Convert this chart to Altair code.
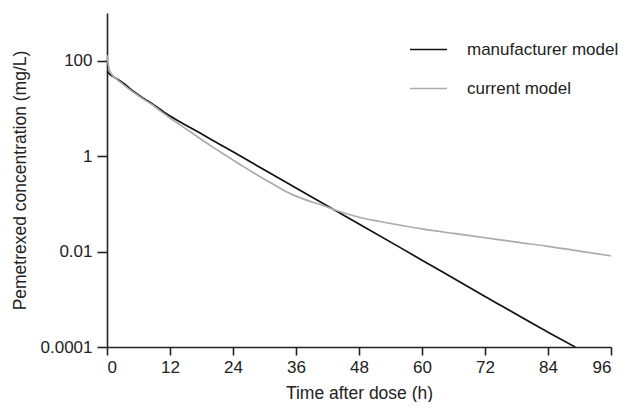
import altair as alt
import pandas as pd

# Manufacturer model (black)
manu_time = [0, 0.5, 1, 2, 3, 5, 7, 9, 12, 16, 20, 24, 36, 48, 60, 72, 84, 89.2]
manu_conc = [61.7, 52.5, 47.9, 40.7, 34.7, 22.9, 16.2, 11.7, 6.92, 3.89, 2.19, 1.23,
             0.214, 0.038, 0.00661, 0.00115, 0.000204, 0.0001]

# Current model (grey)
curr_time = [0, 0.25, 0.5, 1, 2, 3, 5, 7, 9, 10, 12, 14, 16, 18, 20, 23, 26, 29, 32,
             35, 38, 41, 44, 48, 52, 56, 60, 66, 72, 78, 84, 90, 96]
curr_conc = [131.8, 83.2, 63.1, 50.1, 39.8, 32.4, 21.9, 15.5, 11.2, 9.12, 6.31, 4.47,
             3.16, 2.24, 1.58, 0.977, 0.603, 0.38, 0.245, 0.162, 0.12, 0.0933, 0.0708,
             0.0525, 0.0427, 0.0355, 0.0298, 0.024, 0.0195, 0.0158, 0.0129, 0.0102, 0.00813]

series_names = ["manufacturer model", "current model"]
series_colors = ["#111111", "#ababab"]

x_ticks = [0, 12, 24, 36, 48, 60, 72, 84, 96]
y_ticks = [0.0001, 0.01, 1, 100]

df = pd.concat([
    pd.DataFrame({"t": manu_time, "c": manu_conc, "model": series_names[0]}),
    pd.DataFrame({"t": curr_time, "c": curr_conc, "model": series_names[1]}),
])

FONT = "Liberation Sans"

chart = alt.Chart(df).mark_line(strokeWidth=1.7, clip=True, interpolate="monotone").encode(
    x=alt.X("t:Q",
            scale=alt.Scale(domain=[0, 96], nice=False, zero=False),
            axis=alt.Axis(values=x_ticks, title="Time after dose (h)", grid=False,
                          tickSize=8, labelPadding=4, titlePadding=9)),
    y=alt.Y("c:Q",
            scale=alt.Scale(type="log", domain=[0.0001, 1000], nice=False),
            axis=alt.Axis(values=y_ticks, format=".4~f", grid=False,
                          title="Pemetrexed concentration (mg/L)",
                          tickSize=10, labelPadding=5, titlePadding=11)),
    color=alt.Color("model:N",
                    scale=alt.Scale(domain=series_names, range=series_colors),
                    legend=alt.Legend(title=None, orient="none", legendX=302, legendY=17,
                                      symbolType="stroke", symbolSize=1369,
                                      symbolStrokeWidth=1.7, labelFontSize=17,
                                      labelFont=FONT, labelColor="#222",
                                      labelOffset=19, rowPadding=11, padding=0)),
    order=alt.Order("t:Q"),
).properties(
    width=504, height=334,
    autosize=alt.AutoSizeParams(type="none"),
    padding={"left": 99, "top": 5, "right": 11, "bottom": 55},
).configure_view(
    stroke=None
).configure_axis(
    domainColor="#222", domainWidth=1.6, tickColor="#222", tickWidth=1.6,
    labelFont=FONT, labelFontSize=17, labelColor="#222",
    titleFont=FONT, titleFontSize=17.5, titleColor="#222", titleFontWeight="normal",
)

chart.save("out.html", embed_options={"renderer": "svg", "actions": False})
